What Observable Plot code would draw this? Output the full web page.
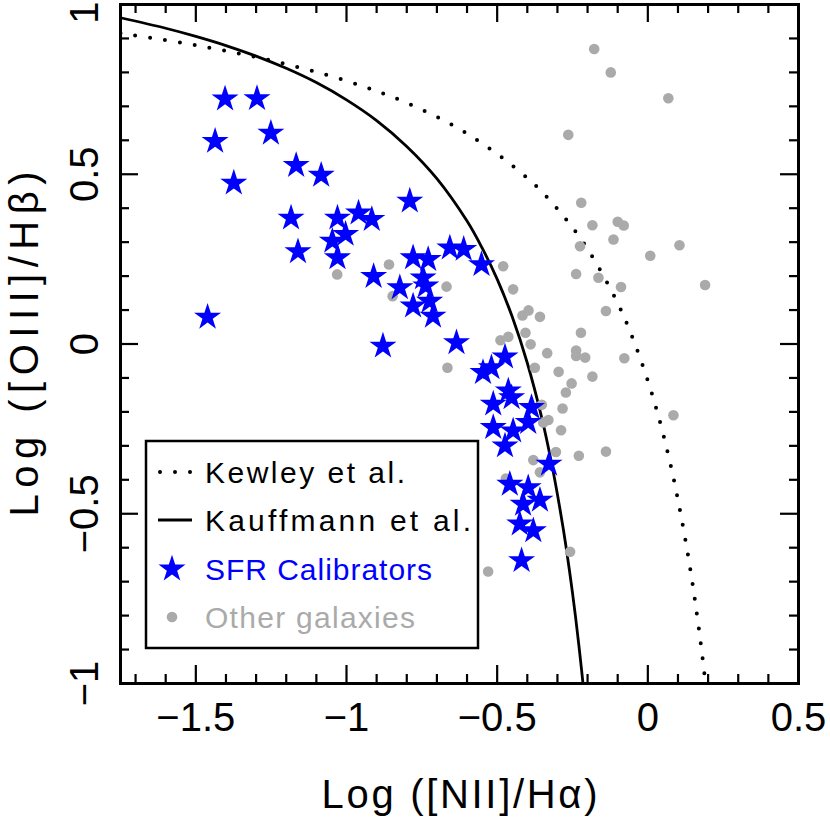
<!DOCTYPE html>
<html><head><meta charset="utf-8">
<script src="https://cdn.jsdelivr.net/npm/d3@7"></script>
<script src="https://cdn.jsdelivr.net/npm/@observablehq/plot@0.6"></script>
<style>
body{margin:0;background:#fff;}
#wrap{position:relative;width:830px;height:823px;}
#wrap svg{position:absolute;left:0;top:0;}
</style></head><body><div id="wrap"></div>
<script>
// ---- data ----
const starX = [-1.403,-1.297,-1.436,-1.251,-1.374,-1.167,-1.084,-1.184,-1.161,-1.030,-0.960,-0.916,-1.047,-1.003,-1.030,-0.910,-1.461,-0.790,-0.657,-0.611,-0.552,-0.779,-0.729,-0.823,-0.746,-0.779,-0.724,-0.713,-0.879,-0.635,-0.474,-0.519,-0.547,-0.463,-0.452,-0.513,-0.386,-0.397,-0.513,-0.447,-0.474,-0.328,-0.458,-0.397,-0.358,-0.414,-0.425,-0.380,-0.419,-0.737];
const starY = [0.722,0.723,0.597,0.621,0.474,0.526,0.497,0.371,0.272,0.371,0.386,0.367,0.303,0.323,0.254,0.199,0.079,0.421,0.283,0.279,0.234,0.254,0.249,0.166,0.195,0.112,0.126,0.082,-0.006,0.004,-0.038,-0.070,-0.084,-0.138,-0.158,-0.177,-0.187,-0.231,-0.246,-0.256,-0.300,-0.354,-0.413,-0.423,-0.460,-0.472,-0.530,-0.550,-0.638,0.171];
const otherX = [-1.031,-0.859,-0.847,-0.178,-0.123,0.068,-0.264,-0.221,-0.184,-0.100,-0.080,-0.114,-0.225,0.105,0.008,-0.238,-0.164,-0.089,0.190,-0.480,-0.447,-0.668,-0.139,-0.416,-0.396,-0.358,-0.222,-0.406,-0.463,-0.489,-0.389,-0.334,-0.238,-0.238,-0.208,-0.078,-0.665,-0.375,-0.296,-0.184,-0.253,-0.272,-0.283,0.085,-0.352,-0.330,-0.347,-0.288,-0.305,-0.229,-0.139,-0.380,-0.358,-0.471,-0.258,-0.530];
const otherY = [0.205,0.234,0.141,0.869,0.800,0.724,0.616,0.416,0.350,0.360,0.349,0.308,0.288,0.291,0.260,0.206,0.195,0.168,0.174,0.229,0.161,0.169,0.097,0.084,0.099,0.080,0.033,0.033,0.021,0.011,-0.001,-0.027,-0.019,-0.035,-0.040,-0.042,-0.070,-0.070,-0.082,-0.096,-0.116,-0.143,-0.190,-0.210,-0.179,-0.224,-0.231,-0.254,-0.318,-0.329,-0.317,-0.342,-0.378,-0.396,-0.612,-0.670];
const kewleyX = [-1.75,-1.5,-1.25,-1.0,-0.8,-0.6,-0.4,-0.3,-0.2,-0.1,-0.05,0.0,0.025,0.05,0.075,0.1,0.13,0.15,0.16,0.17,0.18,0.1915];
const kewleyY = [0.915,0.880,0.835,0.775,0.710,0.620,0.489,0.398,0.280,0.120,0.017,-0.108,-0.181,-0.262,-0.354,-0.459,-0.604,-0.716,-0.778,-0.843,-0.913,-1.000];
const kauffX = [-1.75,-1.6,-1.5,-1.4,-1.3,-1.2,-1.1,-1.0,-0.9,-0.8,-0.7,-0.6,-0.55,-0.5,-0.45,-0.4,-0.35,-0.32,-0.3,-0.28,-0.27,-0.26,-0.25,-0.24,-0.23,-0.22,-0.2152];
const kauffY = [0.961,0.930,0.906,0.879,0.848,0.812,0.770,0.719,0.658,0.582,0.487,0.362,0.283,0.191,0.080,-0.056,-0.225,-0.349,-0.443,-0.548,-0.606,-0.668,-0.733,-0.803,-0.879,-0.959,-1.000];
const xTickValues = [-1.5,-1,-0.5,0,0.5];
const xTickLabels = ["\u22121.5","\u22121","\u22120.5","0","0.5"];
const yTickValues = [-1,-0.5,0,0.5,1];
const yTickLabels = ["\u22121","\u22120.5","0","0.5","1"];
const xMinorTicks = [-1.7,-1.6,-1.4,-1.3,-1.2,-1.1,-0.9,-0.8,-0.7,-0.6,-0.4,-0.3,-0.2,-0.1,0.1,0.2,0.3,0.4];
const yMinorTicks = [-0.9,-0.8,-0.7,-0.6,-0.4,-0.3,-0.2,-0.1,0.1,0.2,0.3,0.4,0.6,0.7,0.8,0.9];
const xTitle = "Log ([NII]/H\u03b1)";
const yTitle = "Log ([OIII]/H\u03b2)";
const legendLabels = ["Kewley et al.","Kauffmann et al.","SFR Calibrators","Other galaxies"];

// ---- tables ----
const stars = starX.map((x,i)=>({x, y: starY[i]}));
const others = otherX.map((x,i)=>({x, y: otherY[i]}));
const kewley = kewleyX.map((x,i)=>({x, y: kewleyY[i]}));
const kauff = kauffX.map((x,i)=>({x, y: kauffY[i]}));
const yLab = yTickValues.map((v,i)=>({v, t: yTickLabels[i]}));

const FONT = '"Liberation Sans", Arial, sans-serif';
const BLUE = "#0000ff", GRAY = "#aaaaaa";
const STAR_R = 8.5, DOT_R = 5.3;
const W = 830, H = 823, ML = 120, MR = 32, MT = 4, MB = 140;
const FW = W - ML - MR, FH = H - MT - MB;
const MAJ = 18, MIN = 9;

const tickRules = (xs, ys, len, sw) => [
  Plot.ruleX(xs, {x: d=>d, insetTop: FH - len, stroke: "black", strokeWidth: sw}),
  Plot.ruleX(xs, {x: d=>d, insetBottom: FH - len, stroke: "black", strokeWidth: sw}),
  Plot.ruleY(ys, {y: d=>d, insetRight: FW - len, stroke: "black", strokeWidth: sw}),
  Plot.ruleY(ys, {y: d=>d, insetLeft: FW - len, stroke: "black", strokeWidth: sw})
];

const chart = Plot.plot({
  width: W, height: H,
  marginLeft: ML, marginRight: MR, marginTop: MT, marginBottom: MB,
  style: {fontFamily: FONT, background: "white", color: "black"},
  x: {domain: [-1.75, 0.5], axis: null},
  y: {domain: [-1, 1], axis: null},
  marks: [
    Plot.line(kewley, {x:"x", y:"y", stroke:"black", strokeWidth:4, strokeDasharray:"0 15", strokeLinecap:"round", curve:"catmull-rom", clip:true}),
    Plot.line(kauff, {x:"x", y:"y", stroke:"black", strokeWidth:2.8, curve:"catmull-rom", clip:true}),
    Plot.dot(others, {x:"x", y:"y", r:DOT_R, fill:GRAY, stroke:null}),
    Plot.dot(stars, {x:"x", y:"y", r:STAR_R, symbol:"star", fill:BLUE, stroke:null}),
    ...tickRules(xTickValues, yTickValues, MAJ, 2.2),
    ...tickRules(xMinorTicks, yMinorTicks, MIN, 2.2),
    Plot.frame({stroke:"black", strokeWidth:3}),
    Plot.text(xTickValues, {x:d=>d, text:(d,i)=>xTickLabels[i], frameAnchor:"bottom", lineAnchor:"middle", dy:35, fontSize:40, fill:"black"}),
    Plot.text(yLab.filter(d=>d.v < 1), {y:"v", text:"t", frameAnchor:"left", textAnchor:"middle", lineAnchor:"middle", dx:-35, rotate:-90, fontSize:40, fill:"black"}),
    Plot.text(yLab.filter(d=>d.v === 1), {y:"v", text:"t", frameAnchor:"left", textAnchor:"middle", lineAnchor:"middle", dx:-35, dy:8, rotate:-90, fontSize:40, fill:"black"}),
    Plot.text([xTitle], {frameAnchor:"bottom", textAnchor:"middle", lineAnchor:"middle", dy:112, fontSize:40, fill:"black"}),
    Plot.text([yTitle], {frameAnchor:"left", textAnchor:"middle", lineAnchor:"middle", dx:-95, rotate:-90, fontSize:40, fill:"black"})
  ]
});
const wrap = document.getElementById("wrap");
wrap.appendChild(chart);
// stretch the axis titles to the reference's wide letter spacing
d3.select(chart).selectAll("text").filter(function(){ return this.textContent === xTitle; })
  .attr("textLength", 276).attr("lengthAdjust", "spacing");
d3.select(chart).selectAll("text").filter(function(){ return this.textContent === yTitle; })
  .attr("textLength", 345).attr("lengthAdjust", "spacing");

// ---- legend overlay ----
const lg = d3.select(wrap).append("svg").attr("width",W).attr("height",H)
  .style("font-family", FONT).style("pointer-events","none");
lg.append("rect").attr("x",146).attr("y",441).attr("width",332).attr("height",207)
  .attr("fill","white").attr("stroke","black").attr("stroke-width",2.5);
const rowsY = [472, 520, 569, 617];
lg.append("line").attr("x1",160).attr("x2",192).attr("y1",rowsY[0]).attr("y2",rowsY[0])
  .attr("stroke","black").attr("stroke-width",4).attr("stroke-dasharray","0 15").attr("stroke-linecap","round");
lg.append("line").attr("x1",158).attr("x2",192).attr("y1",rowsY[1]).attr("y2",rowsY[1])
  .attr("stroke","black").attr("stroke-width",2.8);
lg.append("path").attr("d", d3.symbol(d3.symbolStar, Math.PI*STAR_R*STAR_R)())
  .attr("transform",`translate(172,${rowsY[2]})`).attr("fill",BLUE);
lg.append("circle").attr("cx",172).attr("cy",rowsY[3]).attr("r",DOT_R).attr("fill",GRAY);
const colors = ["black","black",BLUE,GRAY];
const legendLengths = [200, 266, 227, 210];
legendLabels.forEach((t,i)=>{
  lg.append("text").attr("x",205).attr("y",rowsY[i]).attr("dy","0.35em")
    .attr("font-size",30).attr("fill",colors[i])
    .attr("textLength", legendLengths[i]).attr("lengthAdjust","spacing").text(t);
});
</script></body></html>
